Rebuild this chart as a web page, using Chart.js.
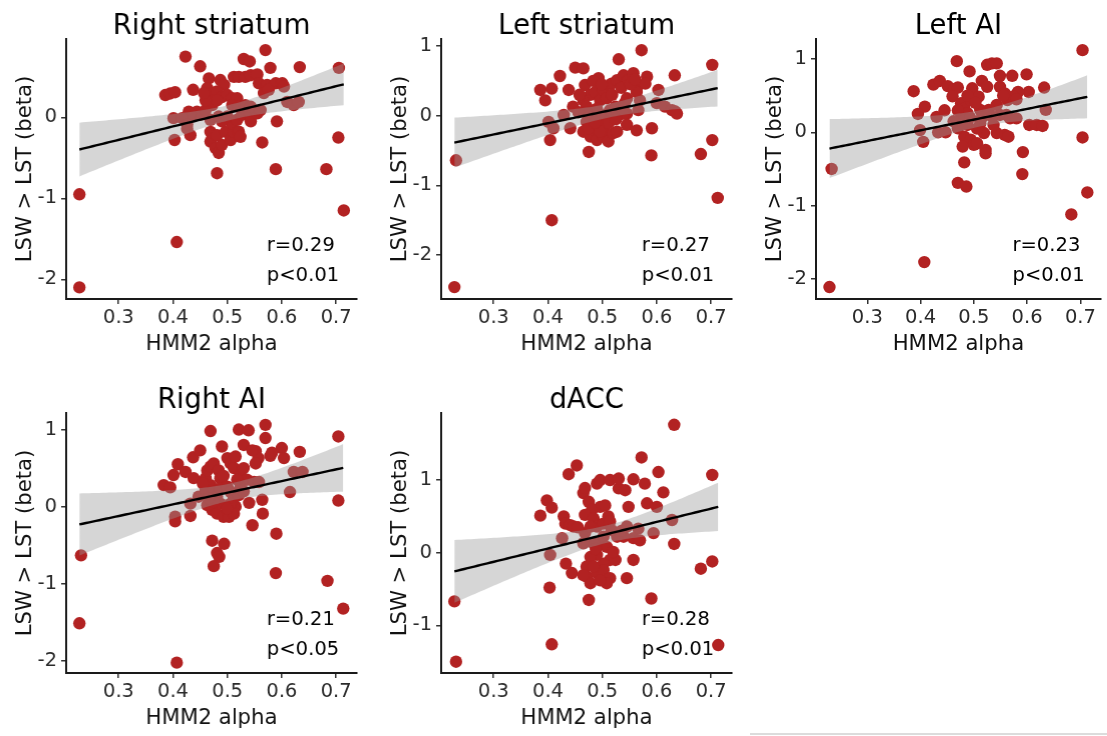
<!DOCTYPE html>
<html>
<head>
<meta charset="utf-8">
<script src="https://cdn.jsdelivr.net/npm/chart.js@4.4.1/dist/chart.umd.min.js"></script>
<style>
  html, body { margin: 0; padding: 0; background: #fff; width: 1107px; height: 736px; overflow: hidden; }
  canvas { position: absolute; }
  #rule { position: absolute; left: 750px; top: 733px; width: 357px; height: 2px; background: #dcdcdc; }
</style>
</head>
<body>
<div id="rule"></div>
<script>
// ---------------- DATA ----------------
const panelTitles = ['Right striatum', 'Left striatum', 'Left AI', 'Right AI', 'dACC'];
const statR = ['r=0.29', 'r=0.27', 'r=0.23', 'r=0.21', 'r=0.28'];
const statP = ['p<0.01', 'p<0.01', 'p<0.01', 'p<0.05', 'p<0.01'];
const xTickValues = [0.3, 0.4, 0.5, 0.6, 0.7];
const xRange = [0.2037, 0.7383];
const yTicksRightStriatum = [-2, -1, 0];
const yTicksLeftStriatum = [-2, -1, 0, 1];
const yTicksLeftAI = [-2, -1, 0, 1];
const yTicksRightAI = [-2, -1, 0, 1];
const yTicksDACC = [-1, 0, 1];
const yRangeRightStriatum = [-2.243, 0.967];
const yRangeLeftStriatum = [-2.631, 1.101];
const yRangeLeftAI = [-2.273, 1.272];
const yRangeRightAI = [-2.154, 1.214];
const yRangeDACC = [-1.655, 1.922];

// points: [HMM2 alpha, LSW > LST beta]
const rightStriatum = [
  [0.228,-0.95],[0.228,-2.10],[0.407,-1.54],[0.714,-1.15],[0.705,0.61],[0.704,-0.25],[0.682,-0.64],[0.589,-0.64],
  [0.591,-0.05],[0.633,0.62],[0.570,0.83],[0.423,0.75],[0.450,0.63],[0.481,-0.69],[0.564,-0.31],[0.530,0.72],
  [0.541,0.69],[0.579,0.61],
  [0.386,0.275],[0.395,0.295],[0.404,0.31],[0.437,0.34],[0.466,0.48],[0.487,0.46],[0.494,0.40],[0.463,0.36],
  [0.472,0.30],[0.481,0.32],[0.490,0.25],[0.500,0.275],[0.509,0.235],[0.518,0.235],[0.512,0.50],[0.521,0.50],
  [0.533,0.50],[0.543,0.52],[0.555,0.53],[0.558,0.42],[0.573,0.40],[0.589,0.42],[0.601,0.42],[0.604,0.38],
  [0.567,0.30],[0.576,0.34],[0.610,0.19],[0.622,0.15],[0.631,0.19],
  [0.401,-0.01],[0.429,0.07],[0.435,0.01],[0.444,0.07],[0.450,0.03],[0.403,-0.28],[0.432,-0.22],[0.426,-0.14],
  [0.432,0.05],[0.417,-0.01],[0.426,-0.09],
  [0.469,-0.03],[0.469,-0.18],[0.469,-0.30],[0.478,-0.38],[0.484,-0.44],[0.490,-0.34],[0.481,-0.22],[0.497,-0.18],
  [0.506,-0.28],[0.512,-0.18],[0.509,-0.075],[0.521,-0.177],[0.524,-0.24],[0.490,-0.05],[0.484,0.01],[0.500,0.01],
  [0.518,-0.03],[0.527,0.03],[0.543,0.03],[0.543,-0.05],[0.555,0.05],[0.472,0.15],[0.481,0.21],[0.509,0.15],
  [0.521,0.13],[0.533,0.15],[0.543,0.13],[0.561,0.09],[0.460,0.09],[0.460,0.21],[0.457,0.30]
];
const leftStriatum = [
  [0.228,-2.46],[0.231,-0.64],[0.407,-1.50],[0.712,-1.18],[0.702,0.73],[0.702,-0.35],[0.681,-0.55],[0.590,-0.57],
  [0.591,-0.18],[0.633,0.58],[0.572,0.94],[0.530,0.81],[0.422,0.57],[0.450,0.69],[0.465,0.68],[0.386,0.37],
  [0.395,0.22],[0.407,0.39],[0.438,0.37],[0.404,-0.35],[0.401,-0.09],[0.410,-0.18],[0.429,0.01],[0.441,-0.18],
  [0.446,0.13],[0.475,-0.52],[0.493,0.54],
  [0.468,0.44],[0.478,0.30],[0.465,0.22],[0.487,0.34],[0.496,0.22],[0.502,0.37],[0.508,0.25],[0.517,0.46],
  [0.527,0.51],[0.539,0.58],[0.548,0.51],[0.557,0.61],[0.563,0.39],[0.582,0.56],[0.579,0.46],[0.603,0.37],
  [0.545,0.25],[0.569,0.22],[0.566,0.08],[0.545,0.03],[0.563,0.34],[0.600,0.18],[0.615,0.13],[0.628,0.08],
  [0.634,0.06],[0.637,0.03],[0.545,-0.13],[0.563,-0.21],
  [0.471,0.13],[0.481,0.01],[0.471,-0.09],[0.484,-0.16],[0.496,-0.06],[0.502,-0.18],[0.465,-0.23],[0.478,-0.30],
  [0.490,-0.35],[0.502,-0.30],[0.511,-0.37],[0.520,-0.25],[0.527,-0.23],[0.505,0.01],[0.514,0.08],[0.524,0.13],
  [0.530,0.01],[0.539,0.03],[0.475,-0.18],[0.496,-0.23],
  [0.458,0.30],[0.490,0.10],[0.518,0.30],[0.535,0.40],[0.552,0.45],[0.483,0.50],[0.470,0.05],[0.512,-0.10],
  [0.525,-0.05],[0.456,0.05],[0.499,0.45],[0.541,0.18],[0.487,-0.10],[0.560,0.52]
];
const leftAI = [
  [0.229,-2.11],[0.233,-0.50],[0.407,-1.77],[0.713,-0.82],[0.704,1.12],[0.704,-0.07],[0.683,-1.12],[0.592,-0.27],
  [0.591,-0.57],[0.468,0.97],[0.470,-0.69],[0.486,-0.74],[0.482,-0.41],[0.492,0.83],[0.525,0.92],[0.534,0.94],
  [0.543,0.94],[0.515,0.70],[0.549,0.77],[0.572,0.77],[0.599,0.79],[0.632,0.61],[0.603,0.55],[0.583,0.55],
  [0.574,0.49],[0.563,0.44],
  [0.387,0.56],[0.424,0.65],[0.436,0.70],[0.451,0.63],[0.463,0.59],[0.470,0.61],[0.408,0.35],[0.395,0.25],
  [0.430,0.21],[0.445,0.30],[0.460,0.49],[0.399,0.03],[0.405,-0.13],[0.433,0.00],[0.447,0.00],
  [0.476,0.395],[0.482,0.327],[0.488,0.26],[0.494,0.44],[0.500,0.486],[0.497,0.60],[0.509,0.486],[0.512,0.305],
  [0.528,0.305],[0.543,0.373],[0.549,0.236],[0.534,0.214],[0.561,0.236],[0.568,0.19],[0.580,0.19],[0.604,0.10],
  [0.618,0.10],[0.629,0.086],[0.635,0.305],[0.525,0.62],[0.549,0.62],[0.558,0.53],[0.476,0.17],[0.488,0.10],
  [0.482,-0.06],[0.494,-0.10],[0.500,-0.17],[0.506,-0.15],[0.519,-0.01],[0.522,-0.24],[0.512,0.12],[0.470,0.055],
  [0.479,-0.195],[0.558,-0.036],[0.565,-0.06],[0.522,-0.286],[0.543,-0.01],
  [0.488,0.50],[0.503,0.40],[0.470,0.30],[0.515,0.20],[0.555,0.50],[0.537,0.10],[0.493,0.20],[0.580,0.45],
  [0.462,0.15],[0.506,0.05]
];
const rightAI = [
  [0.228,-1.51],[0.231,-0.63],[0.407,-2.02],[0.713,-1.32],[0.704,0.91],[0.704,0.08],[0.684,-0.96],[0.589,-0.86],
  [0.590,-0.35],[0.633,0.71],[0.570,1.06],[0.570,0.89],[0.469,0.98],[0.521,1.00],[0.539,0.99],[0.490,0.78],
  [0.530,0.80],[0.552,0.72],[0.557,0.63],[0.600,0.76],[0.604,0.63],[0.579,0.66],[0.582,0.70],[0.622,0.45],
  [0.638,0.45],[0.615,0.19],[0.564,0.09],[0.565,-0.09],[0.546,-0.24],[0.540,0.05],[0.472,-0.44],[0.481,-0.60],
  [0.485,-0.65],[0.475,-0.77],[0.494,-0.48],
  [0.383,0.28],[0.395,0.25],[0.401,0.41],[0.409,0.55],[0.423,0.45],[0.437,0.64],[0.450,0.73],[0.438,0.37],
  [0.404,-0.13],[0.404,-0.19],[0.432,-0.12],[0.432,0.04],[0.447,0.13],
  [0.460,0.37],[0.463,0.47],[0.469,0.52],[0.475,0.56],[0.484,0.47],[0.487,0.37],[0.500,0.63],[0.506,0.56],
  [0.512,0.50],[0.515,0.65],[0.524,0.41],[0.530,0.50],[0.536,0.35],[0.549,0.32],[0.558,0.32],[0.546,0.73],
  [0.552,0.56],[0.460,0.22],[0.469,0.28],[0.475,0.19],[0.481,0.13],[0.487,0.24],[0.500,0.26],[0.506,0.19],
  [0.512,0.11],[0.515,0.00],[0.463,0.02],[0.472,-0.04],[0.481,-0.09],[0.493,-0.13],[0.503,-0.13],[0.512,-0.09],
  [0.506,0.04],[0.521,0.15],[0.524,0.26],[0.518,0.35],[0.487,0.04],[0.475,0.06],[0.466,0.11],[0.500,-0.02],
  [0.493,0.40],[0.530,0.20],[0.455,0.30]
];
const dACC = [
  [0.231,-1.50],[0.228,-0.67],[0.407,-1.26],[0.713,-1.27],[0.702,1.07],[0.702,-0.12],[0.681,-0.22],[0.590,-0.63],
  [0.632,1.76],[0.632,0.12],[0.628,0.45],[0.603,1.11],[0.612,0.83],[0.572,1.31],[0.578,0.95],[0.557,1.01],
  [0.453,1.20],[0.438,1.08],[0.398,0.72],[0.407,0.62],[0.386,0.51],[0.404,-0.03],[0.403,-0.48],[0.433,-0.15],
  [0.444,-0.28],[0.429,0.50],[0.432,0.40],[0.441,0.38],[0.447,0.36],[0.426,0.20],[0.465,0.82],[0.468,0.89],
  [0.475,0.70],[0.475,-0.65],
  [0.490,0.95],[0.496,1.00],[0.496,0.63],[0.481,0.59],[0.468,0.52],[0.484,0.47],[0.490,0.36],[0.502,0.40],
  [0.511,0.50],[0.514,0.43],[0.530,0.885],[0.542,0.86],[0.548,0.63],[0.514,1.00],[0.530,1.02],[0.582,0.68],
  [0.600,0.63],[0.594,0.27],[0.566,0.33],[0.545,0.36],[0.557,0.20],[0.569,0.17],[0.539,0.22],[0.527,0.22],
  [0.517,0.31],[0.502,0.22],[0.496,0.13],[0.508,0.08],[0.514,-0.10],[0.502,-0.15],[0.490,-0.03],[0.478,-0.06],
  [0.471,-0.19],[0.471,-0.33],[0.478,-0.42],[0.490,-0.28],[0.502,-0.24],[0.514,-0.35],[0.508,-0.42],[0.496,-0.38],
  [0.465,-0.31],[0.484,-0.19],[0.524,-0.10],[0.557,-0.10],[0.545,-0.35],[0.520,0.01],[0.484,0.13],[0.465,0.13],
  [0.468,0.27],[0.478,0.36],[0.455,0.35],[0.505,0.65],[0.535,0.30],[0.488,0.05]
];

const panelPoints = [rightStriatum, leftStriatum, leftAI, rightAI, dACC];
const panelYTicks = [yTicksRightStriatum, yTicksLeftStriatum, yTicksLeftAI, yTicksRightAI, yTicksDACC];
const panelYRange = [yRangeRightStriatum, yRangeLeftStriatum, yRangeLeftAI, yRangeRightAI, yRangeDACC];

// ---------------- LAYOUT / STYLE ----------------
const FAMILY = "'DejaVu Sans', 'Liberation Sans', Arial, sans-serif";
const panelAxisLeft = [66, 441, 816, 66, 441];   // page px of the y-axis line
const panelPlotTop  = [39, 39, 39, 413, 413];
const PLOT_W = 290.5, PLOT_H = 260, Y_AXIS_W = 66, X_AXIS_H = 63, TOP_PAD = 39;
const POINT_COLOR = '#B22222';

// ---------------- helpers ----------------
function tQuantile975(df) {
  const z = 1.959964;
  return z + (z**3 + z) / (4*df) + (5*z**5 + 16*z**3 + 3*z) / (96*df*df);
}
function fitBand(pts) {
  const n = pts.length;
  const xs = pts.map(p => p[0]), ys = pts.map(p => p[1]);
  const xm = xs.reduce((a,b)=>a+b,0)/n, ym = ys.reduce((a,b)=>a+b,0)/n;
  let sxx = 0, sxy = 0;
  for (let i=0;i<n;i++){ sxx += (xs[i]-xm)**2; sxy += (xs[i]-xm)*(ys[i]-ym); }
  const b = sxy/sxx, a = ym - b*xm;
  let sse = 0;
  for (let i=0;i<n;i++){ sse += (ys[i]-a-b*xs[i])**2; }
  const s = Math.sqrt(sse/(n-2)), t = tQuantile975(n-2);
  const x0 = Math.min(...xs), x1 = Math.max(...xs);
  const fit = [], up = [], lo = [];
  const N = 80;
  for (let k=0;k<=N;k++){
    const x = x0 + (x1-x0)*k/N;
    const yh = a + b*x;
    const se = s*Math.sqrt(1/n + (x-xm)**2/sxx);
    fit.push({x, y: yh}); up.push({x, y: yh + t*se}); lo.push({x, y: yh - t*se});
  }
  return {fit, up, lo};
}

const panelText = {
  id: 'panelText',
  afterDatasetsDraw(chart, args, opts) {
    const {ctx, chartArea: a} = chart;
    ctx.save();
    ctx.fillStyle = '#000';
    ctx.font = `27.5px ${FAMILY}`;
    ctx.textAlign = 'center';
    ctx.textBaseline = 'alphabetic';
    ctx.fillText(opts.title, (a.left + a.right)/2, a.top - 5.5);
    ctx.font = `19.5px ${FAMILY}`;
    ctx.textAlign = 'left';
    ctx.textBaseline = 'middle';
    const x = a.left + 0.69*(a.right - a.left);
    ctx.fillText(opts.r, x, a.bottom - 53);
    ctx.fillText(opts.p, x, a.bottom - 23);
    ctx.restore();
  }
};

panelPoints.forEach((pts, i) => {
  const cv = document.createElement('canvas');
  const W = Y_AXIS_W + PLOT_W + 14;
  const H = TOP_PAD + PLOT_H + X_AXIS_H;
  const left = panelAxisLeft[i] - Y_AXIS_W;
  const width = Math.min(W, 1107 - left);
  cv.width = width; cv.height = H;
  cv.style.left = left + 'px';
  cv.style.top = (panelPlotTop[i] - TOP_PAD) + 'px';
  cv.style.width = width + 'px'; cv.style.height = H + 'px';
  document.body.appendChild(cv);
  const rightPad = width - Y_AXIS_W - PLOT_W;

  const band = fitBand(pts);
  new Chart(cv, {
    type: 'scatter',
    data: {
      datasets: [
        { type: 'line', data: band.fit, borderColor: '#000', borderWidth: 2.4, pointRadius: 0, fill: false, order: 1 },
        { type: 'line', data: band.up, borderWidth: 0, borderColor: 'rgba(0,0,0,0)', pointRadius: 0,
          fill: '+1', backgroundColor: 'rgba(153,153,153,0.4)', order: 2 },
        { type: 'line', data: band.lo, borderWidth: 0, borderColor: 'rgba(0,0,0,0)', pointRadius: 0, fill: false, order: 2 },
        { type: 'scatter', data: pts.map(p => ({x: p[0], y: p[1]})), backgroundColor: POINT_COLOR,
          borderWidth: 0, pointRadius: 6.2, order: 3 }
      ]
    },
    options: {
      responsive: false, animation: false, devicePixelRatio: 1,
      layout: { padding: { top: TOP_PAD, left: 0, right: rightPad, bottom: 0 } },
      plugins: {
        legend: { display: false }, tooltip: { enabled: false }, title: { display: false },
        panelText: { title: panelTitles[i], r: statR[i], p: statP[i] }
      },
      scales: {
        x: {
          type: 'linear', min: xRange[0], max: xRange[1],
          afterBuildTicks: s => { s.ticks = xTickValues.map(v => ({value: v})); },
          afterFit: s => { s.height = X_AXIS_H; },
          grid: { display: true, drawOnChartArea: false, drawTicks: true, tickLength: 5, color: '#333', lineWidth: 1.5 },
          border: { display: true, color: '#1a1a1a', width: 2 },
          ticks: { color: '#2a2a2a', font: { family: FAMILY, size: 19.5 }, padding: 2.5, maxRotation: 0, autoSkip: false,
                   callback: v => Number(v).toFixed(1) },
          title: { display: true, text: 'HMM2 alpha', color: '#111', font: { family: FAMILY, size: 21.2 },
                   padding: { top: 0, bottom: 4.8 } }
        },
        y: {
          type: 'linear', min: panelYRange[i][0], max: panelYRange[i][1],
          afterBuildTicks: s => { s.ticks = panelYTicks[i].map(v => ({value: v})); },
          afterFit: s => { s.width = Y_AXIS_W; },
          grid: { display: true, drawOnChartArea: false, drawTicks: true, tickLength: 5, color: '#333', lineWidth: 1.5 },
          border: { display: true, color: '#1a1a1a', width: 2 },
          ticks: { color: '#2a2a2a', font: { family: FAMILY, size: 19.5 }, padding: 4, autoSkip: false,
                   callback: v => String(v) },
          title: { display: true, text: 'LSW > LST (beta)', color: '#111', font: { family: FAMILY, size: 21.2 },
                   padding: { top: 12.3, bottom: 0 } }
        }
      }
    },
    plugins: [panelText]
  });
});
</script>
</body>
</html>
